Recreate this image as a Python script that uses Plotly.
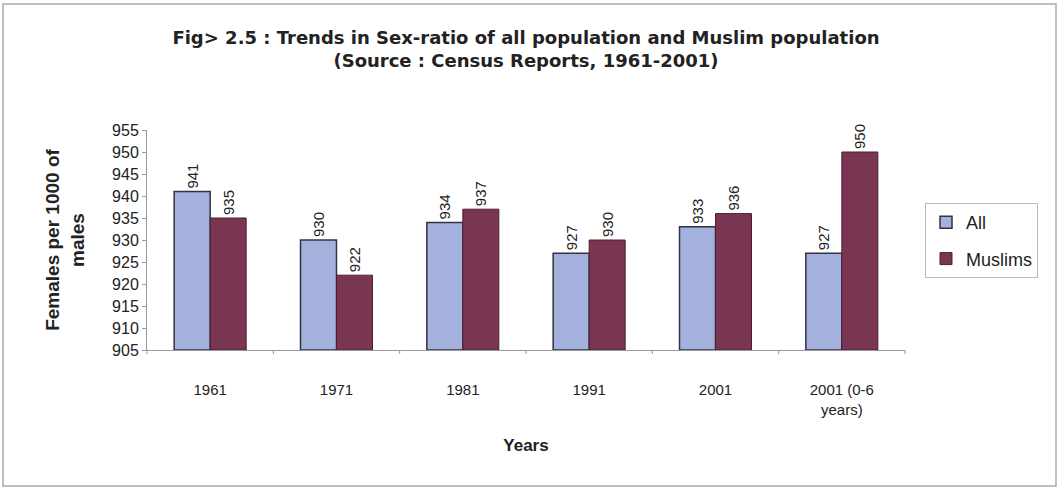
import plotly.graph_objects as go

# Census sex-ratio data (females per 1000 males)
years = ["1961", "1971", "1981", "1991", "2001", "2001 (0-6<br>years)"]
all_pop = [941, 930, 934, 927, 933, 927]
muslims = [935, 922, 937, 930, 936, 950]
y_ticks = [905, 910, 915, 920, 925, 930, 935, 940, 945, 950, 955]
baseline = 905

W, H = 1060, 488
L, R, T, B = 147, 155, 130, 138
pw, ph = W - L - R, H - T - B
SANS = "Liberation Sans, Arial"


def px_x(x):
    return (x - L) / pw


def px_y(y):
    return (H - B - y) / ph


def bar(name, values, fill, edge, edge_w, group):
    return go.Bar(
        x=years, y=[v - baseline for v in values], base=baseline, name=name,
        legendgroup=group,
        marker=dict(color=fill, line=dict(color=edge, width=edge_w)),
        text=[str(v) for v in values], textposition="outside", textangle=-90,
        textfont=dict(family=SANS, size=15, color="#222"),
        cliponaxis=False,
    )


fig = go.Figure()
fig.add_trace(bar("All", all_pop, "#A3B1DC", "#333344", 1.5, "a"))
fig.add_trace(bar("Muslims", muslims, "#7A3552", "#4A2030", 1, "b"))

fig.update_layout(
    width=W, height=H,
    margin=dict(l=L, r=R, t=T, b=B),
    paper_bgcolor="white", plot_bgcolor="white",
    barmode="group", bargap=0.43, bargroupgap=0,
    font=dict(family=SANS, color="#222"),
    title=dict(
        text="Fig> 2.5 : Trends in Sex-ratio of all population and Muslim population<br>(Source : Census Reports, 1961-2001)",
        x=0.5, xref="paper", xanchor="center", y=1 - 44 / H, yanchor="middle",
        font=dict(family="DejaVu Sans", size=18, color="#222", weight="bold"),
    ),
    legend=dict(
        x=px_x(925), y=px_y(203), xanchor="left", yanchor="top",
        bordercolor="#BBBBBB", borderwidth=1,
        font=dict(family=SANS, size=18, color="#222"),
        itemwidth=30, tracegroupgap=10,
    ),
    xaxis=dict(
        showline=True, linecolor="#999999", linewidth=1,
        ticks="", ticklabelstandoff=26,
        tickfont=dict(family=SANS, size=15, color="#222"),
        title=dict(text="<b>Years</b>", font=dict(family=SANS, size=17, color="#222"), standoff=22),
    ),
    yaxis=dict(
        range=[baseline, 955], tickvals=y_ticks,
        showline=True, linecolor="#999999", linewidth=1,
        ticks="outside", ticklen=4, tickcolor="#999999",
        showgrid=False, zeroline=False,
        tickfont=dict(family=SANS, size=16, color="#222"),
        title=dict(text="<b>Females per 1000 of<br>males</b>",
                   font=dict(family=SANS, size=19, color="#222"), standoff=22),
    ),
)

# outer frame of the chart
fig.add_shape(type="rect", xref="paper", yref="paper",
              x0=px_x(3), x1=px_x(1056), y0=px_y(4), y1=px_y(486),
              line=dict(color="#AAAAAA", width=1.5), fillcolor="rgba(0,0,0,0)")

# small category separator ticks under the x axis
n = len(years)
for i in range(n + 1):
    fig.add_shape(type="line", xref="paper", yref="paper",
                  x0=i / n, x1=i / n, y0=0, y1=-4 / ph,
                  line=dict(color="#999999", width=1))

fig.write_html("out.html")
